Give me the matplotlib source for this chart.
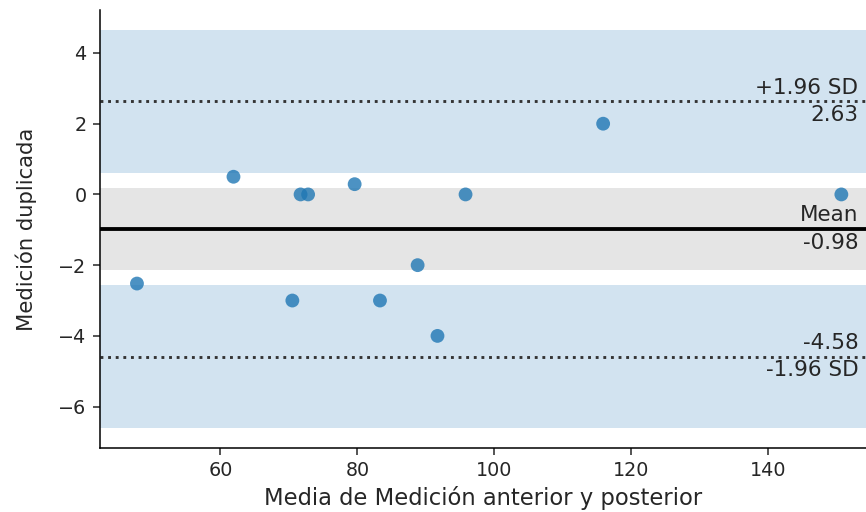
import numpy as np
import matplotlib
matplotlib.use("Agg")
import matplotlib.pyplot as plt
import matplotlib.transforms as transforms

# Data
means = [47.8, 61.9, 70.5, 71.7, 72.8, 79.6, 83.3, 88.8, 91.7, 95.8, 115.9, 150.7]
diffs = [-2.52, 0.5, -3.0, 0.0, 0.0, 0.29, -3.0, -2.0, -4.0, 0.0, 2.0, 0.0]

xlabel = "Media de Medición anterior y posterior"
ylabel = "Medición duplicada"
xticks = [60, 80, 100, 120, 140]
yticks = [-6, -4, -2, 0, 2, 4]

# Statistics (Bland-Altman)
d = np.asarray(diffs)
n = d.size
mean_diff = d.mean()
std_diff = d.std(ddof=1)
agreement = 1.96
high = mean_diff + agreement * std_diff
low = mean_diff - agreement * std_diff
t_crit = 2.200985160082949  # t(0.975, df=11)
ci_mean = (mean_diff - t_crit * std_diff / np.sqrt(n), mean_diff + t_crit * std_diff / np.sqrt(n))
se_loa = np.sqrt(3 * std_diff ** 2 / n)
ci_high = (high - t_crit * se_loa, high + t_crit * se_loa)
ci_low = (low - t_crit * se_loa, low + t_crit * se_loa)

dpi = 138
fig = plt.figure(figsize=(866 / dpi, 512 / dpi), dpi=dpi)
ax = fig.add_axes([100 / 866, 1 - 448 / 512, 766 / 866, 438 / 512])

ax.scatter(means, diffs, s=52, color="tab:blue", alpha=0.8, edgecolors="none", zorder=3)

ax.axhline(mean_diff, color="k", linestyle="-", lw=2)
ax.axhline(high, color="#333333", linestyle=":", lw=1.5)
ax.axhline(low, color="#333333", linestyle=":", lw=1.5)

ax.axhspan(ci_mean[0], ci_mean[1], facecolor="tab:grey", alpha=0.2, edgecolor="none")
ax.axhspan(ci_high[0], ci_high[1], facecolor="tab:blue", alpha=0.2, edgecolor="none")
ax.axhspan(ci_low[0], ci_low[1], facecolor="tab:blue", alpha=0.2, edgecolor="none")

offset = (high - low) / 100.0 * 1.5
trans = transforms.blended_transform_factory(ax.transAxes, ax.transData)
xloc = 0.99
tc = "#262626"
fs = 11.2
ax.text(xloc, mean_diff + offset, "Mean", ha="right", va="bottom", transform=trans, color=tc, fontsize=fs)
ax.text(xloc, mean_diff - offset, "%.2f" % mean_diff, ha="right", va="top", transform=trans, color=tc, fontsize=fs)
ax.text(xloc, high + offset, "+%.2f SD" % agreement, ha="right", va="bottom", transform=trans, color=tc, fontsize=fs)
ax.text(xloc, high - offset, "%.2f" % high, ha="right", va="top", transform=trans, color=tc, fontsize=fs)
ax.text(xloc, low - offset, "-%.2f SD" % agreement, ha="right", va="top", transform=trans, color=tc, fontsize=fs)
ax.text(xloc, low + offset, "%.2f" % low, ha="right", va="bottom", transform=trans, color=tc, fontsize=fs)

ax.set_xlim(42.4, 154.3)
ax.set_xticks(xticks)
ax.set_yticks(yticks)
ax.set_xlabel(xlabel, color=tc, fontsize=11.8, labelpad=3)
ax.set_ylabel(ylabel, color=tc, fontsize=11, labelpad=11)
ax.tick_params(colors=tc, labelsize=10)
for s in ["top", "right"]:
    ax.spines[s].set_visible(False)

fig.savefig("out.png", dpi=dpi)
